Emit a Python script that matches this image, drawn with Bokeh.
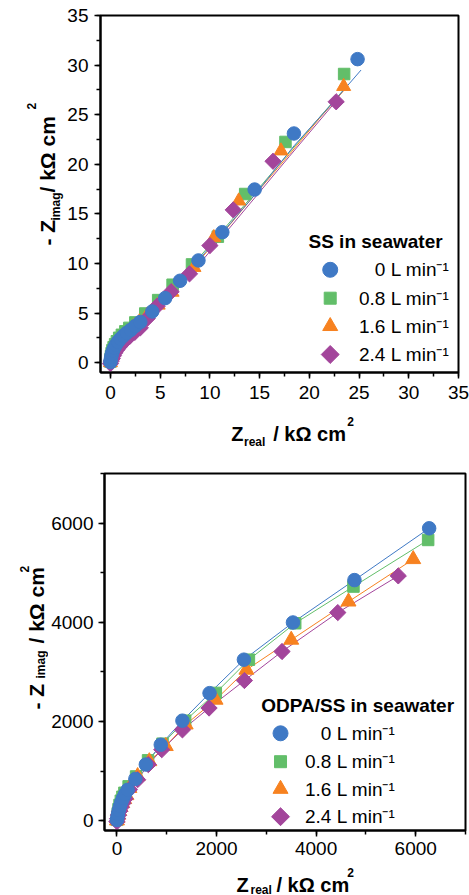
import math
from bokeh.plotting import figure
from bokeh.models import Range1d, SingleIntervalTicker, Label
from bokeh.layouts import column, row
from bokeh.embed import file_html
from bokeh.resources import INLINE

FONT = "Liberation Sans"
BLUE = "#3f79c5"
GREEN = "#62be69"
ORANGE = "#f78220"
PURPLE = "#a3459b"

series_labels = ["0 L min\u207b\u00b9", "0.8 L min\u207b\u00b9", "1.6 L min\u207b\u00b9", "2.4 L min\u207b\u00b9"]

# ---- Top panel: SS in seawater (kOhm cm2) ----
ss_x0 = [0.0, 0.03, 0.08, 0.15, 0.25, 0.38, 0.55, 0.75, 1.0, 1.3, 1.65, 2.05, 2.5, 3.0, 4.2, 5.5, 7.0, 8.85, 11.25, 14.5, 18.45, 24.85]
ss_y0 = [0.05, 0.3, 0.6, 0.9, 1.2, 1.5, 1.8, 2.1, 2.4, 2.7, 3.0, 3.3, 3.7, 4.1, 5.15, 6.5, 8.25, 10.3, 13.15, 17.45, 23.1, 30.6]
ss_x1 = [0.0, 0.02, 0.06, 0.12, 0.2, 0.32, 0.47, 0.65, 0.88, 1.15, 1.5, 1.9, 2.5, 3.5, 4.8, 6.25, 8.2, 10.8, 13.55, 17.6, 23.5]
ss_y1 = [0.1, 0.35, 0.65, 0.95, 1.25, 1.55, 1.85, 2.15, 2.5, 2.8, 3.15, 3.5, 4.05, 4.95, 6.3, 7.85, 9.9, 12.7, 17.0, 22.25, 29.1]
ss_x2 = [0.0, 0.04, 0.1, 0.18, 0.3, 0.45, 0.62, 0.85, 1.1, 1.4, 1.8, 2.3, 2.9, 3.7, 4.8, 6.2, 8.4, 10.4, 12.9, 17.15, 23.45]
ss_y2 = [0.0, 0.3, 0.6, 0.9, 1.2, 1.5, 1.8, 2.1, 2.45, 2.8, 3.15, 3.6, 4.1, 4.8, 5.8, 7.1, 9.6, 12.6, 16.3, 21.35, 27.85]
ss_x3 = [0.0, 0.08, 0.18, 0.3, 0.45, 0.65, 0.9, 1.2, 1.55, 1.95, 2.45, 3.0, 3.7, 4.7, 6.1, 7.95, 10.0, 12.35, 16.35, 22.7]
ss_y3 = [-0.1, 0.15, 0.4, 0.7, 1.0, 1.3, 1.6, 1.95, 2.3, 2.65, 3.05, 3.5, 4.45, 5.7, 7.15, 8.95, 11.8, 15.4, 20.3, 26.3]

# fitted curves
fit_x0 = [0, 0.3, 1, 2, 3.5, 5.5, 8, 11, 14.5, 18.5, 22, 25.2]
fit_y0 = [0, 0.95, 2.05, 3.15, 4.5, 6.45, 9.35, 12.8, 16.9, 21.9, 25.8, 29.5]
fit_x1 = [0, 0.2, 0.8, 1.8, 3.2, 5, 7.5, 10.5, 14, 18, 21, 23.7]
fit_y1 = [0, 0.95, 2.05, 3.15, 4.5, 6.3, 9.0, 12.4, 16.5, 21.2, 24.7, 27.8]
fit_x2 = [0, 0.3, 1, 2, 3.5, 5.5, 8, 11, 14, 18, 21, 23.7]
fit_y2 = [0, 0.8, 1.85, 3.0, 4.4, 6.4, 9.2, 12.7, 16.3, 21.0, 24.6, 27.7]
fit_x3 = [0, 0.4, 1.2, 2.3, 3.8, 5.8, 8.2, 11, 14, 18, 22.8]
fit_y3 = [-0.05, 0.65, 1.7, 2.85, 4.3, 6.3, 9.05, 12.4, 16.0, 20.8, 26.5]

# ---- Bottom panel: ODPA/SS in seawater (kOhm cm2) ----
od_x0 = [0, 8, 20, 38, 60, 88, 120, 160, 215, 370, 580, 880, 1315, 1860, 2550, 3535, 4770, 6270]
od_y0 = [10, 60, 130, 210, 290, 370, 450, 530, 620, 840, 1130, 1530, 2015, 2570, 3245, 3995, 4850, 5895]
od_x1 = [0, 6, 16, 32, 52, 78, 110, 150, 235, 385, 625, 915, 1370, 1985, 2650, 3580, 4750, 6250]
od_y1 = [15, 70, 145, 230, 315, 400, 480, 560, 690, 890, 1215, 1550, 2015, 2575, 3245, 3980, 4720, 5660]
od_x2 = [0, 10, 25, 45, 72, 105, 145, 190, 250, 415, 650, 980, 1380, 1980, 2600, 3500, 4650, 5950]
od_y2 = [0, 50, 115, 190, 270, 350, 430, 510, 655, 895, 1195, 1500, 1935, 2435, 3040, 3645, 4415, 5270]
od_x3 = [0, 12, 30, 55, 85, 120, 165, 250, 415, 630, 900, 1315, 1850, 2560, 3315, 4435, 5650]
od_y3 = [-20, 40, 110, 190, 270, 350, 440, 625, 825, 1130, 1430, 1830, 2270, 2825, 3410, 4195, 4935]

A = math.pi / 2


def style(p, interval, xstand, ystand):
    p.xaxis.ticker = SingleIntervalTicker(interval=interval, num_minor_ticks=2)
    p.yaxis.ticker = SingleIntervalTicker(interval=interval, num_minor_ticks=2)
    for ax in (p.xaxis[0], p.yaxis[0]):
        ax.axis_line_width = 2
        ax.axis_line_color = "black"
        ax.major_tick_line_width = 1.5
        ax.minor_tick_line_width = 1.5
        ax.major_tick_line_color = "black"
        ax.minor_tick_line_color = "black"
        ax.major_tick_in = 0
        ax.major_tick_out = 6
        ax.minor_tick_in = 0
        ax.minor_tick_out = 4
        ax.major_label_text_font = FONT
        ax.major_label_text_font_size = "19px"
        ax.major_label_text_color = "black"
    p.xaxis.major_label_standoff = xstand
    p.yaxis.major_label_standoff = ystand
    p.xgrid.visible = False
    p.ygrid.visible = False
    p.outline_line_color = "black"
    p.outline_line_width = 2
    p.background_fill_color = "white"
    p.border_fill_color = "white"


def txt(p, text, x, y, size, angle=0.0, bold=True, baseline="alphabetic", align="left"):
    p.add_layout(Label(x=x, y=y, x_units="screen", y_units="screen", text=text,
                       text_font=FONT, text_font_size=size,
                       text_font_style="bold" if bold else "normal",
                       text_color="black", angle=angle, text_align=align,
                       text_baseline=baseline))


def label_fig(w, h):
    f = figure(width=w, height=h, x_range=Range1d(0, 1), y_range=Range1d(0, 1),
               x_axis_type=None, y_axis_type=None, output_backend="svg",
               toolbar_location=None, min_border=0)
    f.outline_line_color = None
    f.xgrid.visible = False
    f.ygrid.visible = False
    f.background_fill_color = "white"
    f.border_fill_color = "white"
    return f


def key_pos(p, fw, fh, px, py):
    xr, yr = p.x_range, p.y_range
    return (xr.start + px * (xr.end - xr.start) / fw,
            yr.start + py * (yr.end - yr.start) / fh)


def manual_legend(p, fw, fh, title, title_xy, key_x, rows_y, text_right, sizes):
    txt(p, title, title_xy[0], title_xy[1], "19px", baseline="middle")
    markers = [("circle", 0.0, BLUE), ("square", 0.0, GREEN),
               ("triangle", 0.0, ORANGE), ("square", math.pi / 4, PURPLE)]
    for (mk, ang, col), ry, lab, sz in zip(markers, rows_y, series_labels, sizes):
        kx, ky = key_pos(p, fw, fh, key_x, ry)
        p.scatter([kx], [ky], marker=mk, angle=ang, size=sz, color=col)
        txt(p, lab, text_right, ry, "19px", bold=False, baseline="middle", align="right")


# ================= top block =================
FW1, FH1 = 360, 357
p1 = figure(width=405, height=410, x_range=Range1d(-1, 35), y_range=Range1d(-1, 35),
            output_backend="svg", toolbar_location=None,
            min_border_left=34, min_border_right=11, min_border_top=15, min_border_bottom=38)
style(p1, 5, 7, 6)

p1.line(fit_x1, fit_y1, line_color=GREEN, line_width=1)
p1.line(fit_x2, fit_y2, line_color=ORANGE, line_width=1)
p1.line(fit_x3, fit_y3, line_color=PURPLE, line_width=1)
p1.line(fit_x0, fit_y0, line_color=BLUE, line_width=1)
p1.scatter(ss_x1, ss_y1, marker="square", size=11.5, color=GREEN)
p1.scatter(ss_x2, ss_y2, marker="triangle", size=14, color=ORANGE)
p1.scatter(ss_x3, ss_y3, marker="square", angle=math.pi / 4, size=11.5, color=PURPLE)
p1.scatter(ss_x0, ss_y0, marker="circle", size=13.5, color=BLUE)
manual_legend(p1, FW1, FH1, "SS in seawater", (208, 131), 231,
              [102.7, 74.3, 46.3, 18.0], 349, [15, 12, 15, 12.7])

ylab1 = label_fig(64, 410)
txt(ylab1, "- Z", 47, 127, "21px", angle=A)
txt(ylab1, "imag", 55, 152, "12px", angle=A)
txt(ylab1, "/ k\u03a9 cm", 47, 180, "21px", angle=A)
txt(ylab1, "2", 31, 263, "12px", angle=A)

xlab1 = label_fig(469, 40)
txt(xlab1, "Z", 230.7, 17, "20px")
txt(xlab1, "real", 243.5, 9, "12px")
txt(xlab1, "/ k\u03a9 cm", 272.7, 17, "20px")
txt(xlab1, "2", 346.7, 29, "12px")

# ================= bottom block =================
FW2, FH2 = 363, 357
p2 = figure(width=421, height=414, x_range=Range1d(-250, 7000), y_range=Range1d(-200, 7000),
            output_backend="svg", toolbar_location=None,
            min_border_left=54, min_border_right=4, min_border_top=23, min_border_bottom=34)
style(p2, 2000, 5, 5)

p2.line(od_x1, od_y1, line_color=GREEN, line_width=1)
p2.line(od_x2, od_y2, line_color=ORANGE, line_width=1)
p2.line(od_x3, od_y3, line_color=PURPLE, line_width=1)
p2.line(od_x0, od_y0, line_color=BLUE, line_width=1)
p2.scatter(od_x1, od_y1, marker="square", size=11.5, color=GREEN)
p2.scatter(od_x2, od_y2, marker="triangle", size=15, color=ORANGE)
p2.scatter(od_x3, od_y3, marker="square", angle=math.pi / 4, size=11.5, color=PURPLE)
p2.scatter(od_x0, od_y0, marker="circle", size=13.5, color=BLUE)
manual_legend(p2, FW2, FH2, "ODPA/SS in seawater", (156.7, 125.5), 177,
              [97.2, 68.8, 41.5, 13.8], 291, [15, 12, 15, 12.7])

ylab2 = label_fig(48, 414)
txt(ylab2, "- Z", 36, 121, "21px", angle=A)
txt(ylab2, "imag", 40, 152, "12px", angle=A)
txt(ylab2, "/ k\u03a9 cm", 36, 187, "21px", angle=A)
txt(ylab2, "2", 24, 258, "12px", angle=A)

xlab2 = label_fig(469, 31)
txt(xlab2, "Z", 236, 11, "20px")
txt(xlab2, "real", 250, 6, "12px")
txt(xlab2, "/ k\u03a9 cm", 276, 11, "20px")
txt(xlab2, "2", 346.7, 23, "12px")

layout = column(row(ylab1, p1), xlab1, row(ylab2, p2), xlab2)
open("out.html", "w").write(file_html(layout, INLINE))
